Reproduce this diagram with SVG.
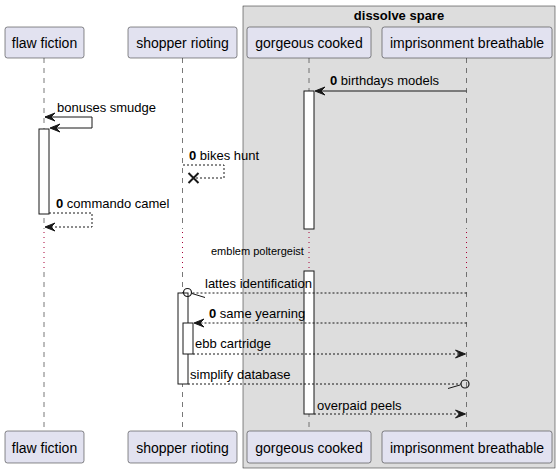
<svg xmlns="http://www.w3.org/2000/svg" width="560" height="473" viewBox="0 0 560 473">
<style>
.t{font-family:"Liberation Sans",Arial,sans-serif;font-size:13px;fill:#000}
.pt{font-family:"Liberation Sans",Arial,sans-serif;font-size:14px;fill:#000}
.b{font-weight:bold}
.s{font-family:"Liberation Sans",Arial,sans-serif;font-size:11px;fill:#000}
.p rect{fill:#E2E2F0;stroke:#181818;stroke-width:0.5}
.life{stroke:#555555;stroke-width:0.8;stroke-dasharray:5,5;fill:none}
.delay{stroke:#A80036;stroke-width:1;stroke-dasharray:1,4;fill:none}
.act{fill:#FFFFFF;stroke:#181818;stroke-width:1}
.m{stroke:#181818;stroke-width:1;fill:none}
.d{stroke:#181818;stroke-width:1;fill:none;stroke-dasharray:2,2}
.ah{fill:#181818;stroke:#181818;stroke-width:1}
</style>
<g id="group-dissolve-spare">
<rect x="243" y="6" width="312" height="462" fill="#DDDDDD" stroke="#181818" stroke-width="0.5"/>
<text class="t b" x="399" y="20" text-anchor="middle">dissolve spare</text>
</g>
<g id="lifelines">
<line class="life" x1="44" y1="58" x2="44" y2="229"/>
<line class="delay" x1="44" y1="232" x2="44" y2="270"/>
<line class="life" x1="44" y1="272" x2="44" y2="431"/>
<line class="life" x1="182.5" y1="58" x2="182.5" y2="229"/>
<line class="delay" x1="182.5" y1="232" x2="182.5" y2="270"/>
<line class="life" x1="182.5" y1="272" x2="182.5" y2="431"/>
<line class="life" x1="309" y1="58" x2="309" y2="229"/>
<line class="delay" x1="309" y1="232" x2="309" y2="270"/>
<line class="life" x1="309" y1="272" x2="309" y2="431"/>
<line class="life" x1="466.5" y1="58" x2="466.5" y2="229"/>
<line class="delay" x1="466.5" y1="232" x2="466.5" y2="270"/>
<line class="life" x1="466.5" y1="272" x2="466.5" y2="431"/>
</g>
<g id="activations">
<rect class="act" x="304" y="91" width="10" height="138"/>
<rect class="act" x="304" y="271" width="10" height="143"/>
<rect class="act" x="39" y="129" width="10" height="85"/>
<rect class="act" x="178" y="293" width="10" height="91"/>
<rect class="act" x="183" y="323" width="10" height="31"/>
</g>
<g id="p-flaw-fiction" class="p">
<rect x="5" y="27" width="79" height="31" rx="2.5"/>
<text class="pt" x="44.5" y="48" text-anchor="middle">flaw fiction</text>
<rect x="5" y="431" width="79" height="32" rx="2.5"/>
<text class="pt" x="44.5" y="452.5" text-anchor="middle">flaw fiction</text>
</g>
<g id="p-shopper-rioting" class="p">
<rect x="128" y="27" width="109" height="31" rx="2.5"/>
<text class="pt" x="182.5" y="48" text-anchor="middle">shopper rioting</text>
<rect x="128" y="431" width="109" height="32" rx="2.5"/>
<text class="pt" x="182.5" y="452.5" text-anchor="middle">shopper rioting</text>
</g>
<g id="p-gorgeous-cooked" class="p">
<rect x="247" y="27" width="124" height="31" rx="2.5"/>
<text class="pt" x="309" y="48" text-anchor="middle">gorgeous cooked</text>
<rect x="247" y="431" width="124" height="32" rx="2.5"/>
<text class="pt" x="309" y="452.5" text-anchor="middle">gorgeous cooked</text>
</g>
<g id="p-imprisonment-breathable" class="p">
<rect x="382" y="27" width="170" height="31" rx="2.5"/>
<text class="pt" x="467" y="48" text-anchor="middle">imprisonment breathable</text>
<rect x="382" y="431" width="170" height="32" rx="2.5"/>
<text class="pt" x="467" y="452.5" text-anchor="middle">imprisonment breathable</text>
</g>
<g id="connectors">
<!-- birthdays models -->
<line class="m" x1="466.5" y1="91" x2="316" y2="91"/>
<polygon class="ah" points="315,91 325,87 321,91 325,95"/>
<text class="t" x="330" y="85"><tspan class="b">0</tspan> birthdays models</text>
<!-- bonuses smudge -->
<polyline class="m" points="45,117 92,117 92,128 51,128"/>
<polygon class="ah" points="45,117 55,113 51,117 55,121"/>
<polygon class="ah" points="50,128 60,124 56,128 60,132"/>
<text class="t" x="57" y="112">bonuses smudge</text>
<!-- bikes hunt -->
<polyline class="d" points="183,165 224,165 224,178 195,178"/>
<path d="M188.5,173 L198.5,183 M188.5,183 L198.5,173" stroke="#181818" stroke-width="2" fill="none"/>
<text class="t" x="189" y="160"><tspan class="b">0</tspan> bikes hunt</text>
<!-- commando camel -->
<polyline class="d" points="49,213 92,213 92,227 46,227"/>
<polygon class="ah" points="45,227 55,223 51,227 55,231"/>
<text class="t" x="56" y="208"><tspan class="b">0</tspan> commando camel</text>
<!-- delay -->
<text class="s" x="211" y="255">emblem poltergeist</text>
<!-- lattes identification -->
<line class="d" x1="466.5" y1="293" x2="192" y2="293"/>
<circle cx="187.5" cy="292.5" r="4" fill="none" stroke="#181818" stroke-width="1.2"/>
<line class="m" x1="192" y1="293.5" x2="205" y2="297.5"/>
<text class="t" x="205" y="288">lattes identification</text>
<!-- same yearning -->
<line class="d" x1="466.5" y1="323" x2="195" y2="323"/>
<polygon class="ah" points="194,323 204,319 200,323 204,327"/>
<text class="t" x="209" y="318"><tspan class="b">0</tspan> same yearning</text>
<!-- ebb cartridge -->
<line class="d" x1="193" y1="354" x2="464" y2="354"/>
<polygon class="ah" points="465.5,354 455.5,350 459.5,354 455.5,358"/>
<text class="t" x="195" y="348">ebb cartridge</text>
<!-- simplify database -->
<line class="d" x1="188" y1="384" x2="461" y2="384"/>
<circle cx="465" cy="384" r="4" fill="none" stroke="#181818" stroke-width="1.2"/>
<line class="m" x1="448" y1="388.5" x2="460" y2="385"/>
<text class="t" x="190" y="379">simplify database</text>
<!-- overpaid peels -->
<line class="d" x1="314" y1="414" x2="464" y2="414"/>
<polygon class="ah" points="465.5,414 455.5,410 459.5,414 455.5,418"/>
<text class="t" x="317" y="410">overpaid peels</text>
</g>
</svg>
